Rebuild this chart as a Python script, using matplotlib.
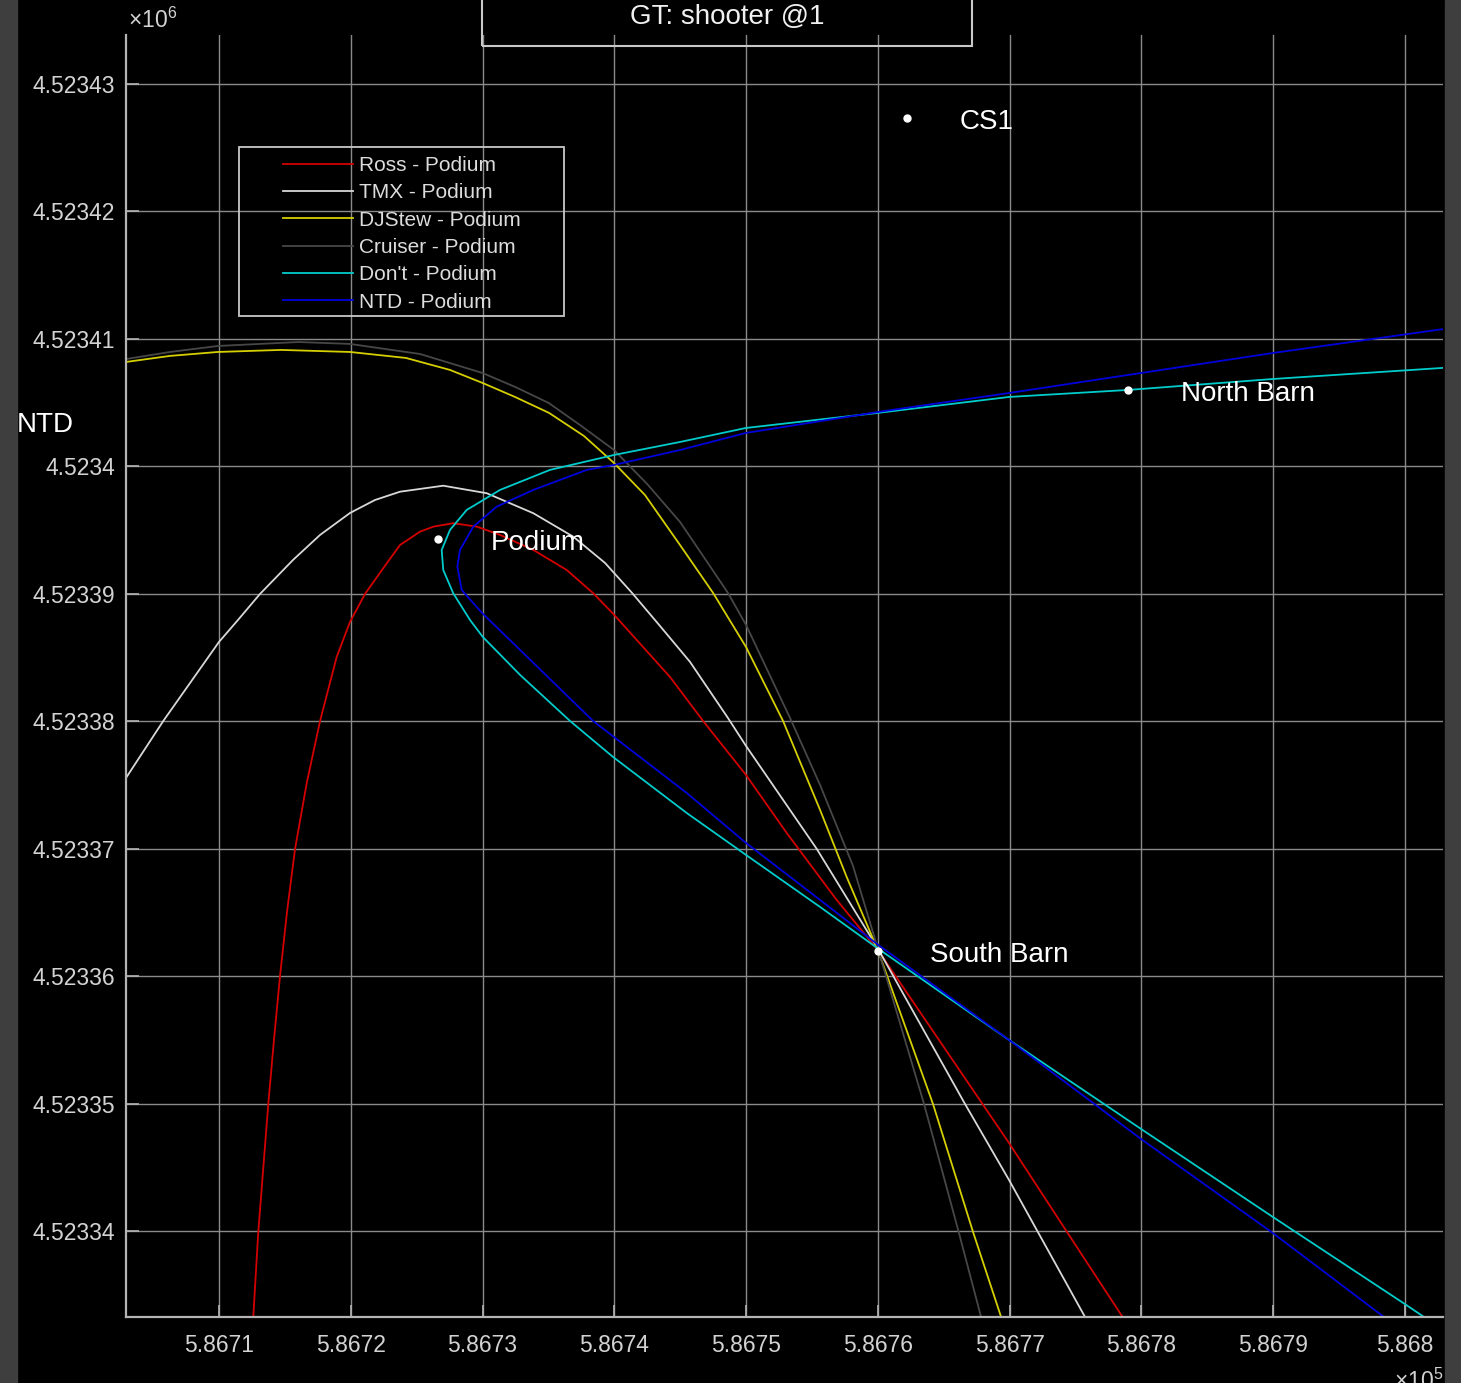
import matplotlib
matplotlib.use('Agg')
import matplotlib.pyplot as plt
import numpy as np
from matplotlib.patches import Rectangle
from matplotlib.ticker import FuncFormatter

plt.rcParams['font.family'] = ['Liberation Sans', 'DejaVu Sans']
plt.rcParams['mathtext.fontset'] = 'custom'
plt.rcParams['mathtext.rm'] = 'Liberation Sans'

# UTM base (m)
E0 = 586700.0
N0 = 4523300.0

# sensor / landmark positions (offsets from base, m)
site_names = ['Podium', 'CS1', 'North Barn', 'South Barn']
site_e = [26.6, 62.2, 79.0, 60.0]
site_n = [94.3, 127.3, 106.0, 62.0]

# hyperbola traces (offsets from base, m)
ross_e = [12.60, 12.98, 13.74, 14.17, 14.63, 15.16, 15.77, 16.66, 17.67, 18.93, 19.94, 21.08, 22.75,
          23.74, 25.26, 26.27, 27.78, 29.56, 31.33, 33.86, 36.39, 38.41, 39.93, 44.23, 46.74, 50.00,
          53.09, 56.88, 60.00, 69.96, 74.36, 78.58]
ross_n = [33.29, 39.96, 50.00, 55.02, 60.04, 65.06, 70.00, 75.18, 80.04, 85.06, 87.80, 90.00, 92.43,
          93.84, 94.89, 95.28, 95.55, 95.28, 94.63, 93.45, 91.88, 90.05, 88.43, 83.49, 80.04, 75.80,
          71.25, 66.00, 62.08, 46.94, 39.96, 33.29]

tmx_e = [2.94, 5.77, 10.00, 11.44, 13.11, 15.62, 17.67, 19.94, 21.84, 23.74, 27.02, 30.32, 33.86,
         36.89, 39.30, 41.35, 43.47, 45.75, 48.63, 50.00, 55.37, 60.00, 66.62, 69.96, 75.73]
tmx_n = [75.57, 80.04, 86.24, 87.96, 90.00, 92.67, 94.63, 96.35, 97.37, 98.02, 98.49, 97.90, 96.33,
         94.49, 92.43, 90.08, 87.49, 84.67, 80.27, 78.08, 70.00, 62.20, 50.00, 44.04, 33.29]

djstew_e = [2.97, 6.28, 9.92, 14.71, 19.94, 24.19, 27.53, 30.00, 32.47, 35.05, 37.70, 39.98, 42.33,
            44.99, 47.50, 50.00, 52.81, 55.62, 57.64, 60.00, 64.19, 67.23, 69.36]
djstew_n = [108.20, 108.67, 108.98, 109.14, 108.98, 108.51, 107.57, 106.55, 105.45, 104.20, 102.39,
            100.27, 97.76, 93.84, 90.08, 85.84, 80.04, 73.06, 67.80, 62.08, 50.00, 39.96, 33.29]

cruiser_e = [2.97, 6.28, 9.92, 16.04, 19.94, 25.26, 30.00, 32.47, 35.02, 37.40, 39.98, 42.49, 44.99,
             46.74, 48.63, 50.00, 53.34, 55.62, 58.12, 60.00, 63.51, 66.14, 67.84]
cruiser_n = [108.43, 108.98, 109.45, 109.76, 109.61, 108.82, 107.33, 106.24, 104.98, 103.25, 101.29,
             98.63, 95.65, 92.98, 90.08, 87.57, 80.27, 75.02, 68.67, 62.20, 50.00, 39.96, 33.29]

dont_e = [102.90, 90.00, 78.99, 69.96, 60.00, 50.00, 44.99, 39.98, 35.12, 31.33, 28.80, 27.53, 26.90,
          27.02, 27.78, 29.05, 30.02, 32.85, 36.64, 39.90, 45.50, 50.00, 55.62, 60.00, 69.96, 79.98,
          89.98, 100.00, 101.46]
dont_n = [107.73, 106.86, 106.00, 105.45, 104.20, 103.02, 101.92, 100.90, 99.73, 98.16, 96.59, 95.02,
          93.45, 91.88, 90.05, 87.96, 86.63, 83.65, 80.04, 77.22, 72.82, 69.53, 65.45, 62.20, 55.02,
          48.04, 41.14, 34.31, 33.29]

ntd_e = [102.95, 90.00, 79.98, 69.96, 60.00, 50.00, 44.99, 39.98, 37.91, 33.86, 31.08, 29.30, 28.29,
         28.09, 28.42, 29.96, 32.85, 38.39, 45.50, 50.00, 55.62, 60.00, 69.96, 79.98, 89.98, 98.42]
ntd_n = [110.78, 108.90, 107.33, 105.76, 104.27, 102.63, 101.29, 100.12, 99.73, 98.16, 96.85, 95.28,
         93.45, 92.14, 90.31, 88.51, 85.61, 80.04, 74.39, 70.47, 66.00, 62.50, 55.02, 47.25, 39.88,
         33.29]

series = [
    ('Ross - Podium', ross_e, ross_n, '#d40000'),
    ('TMX - Podium', tmx_e, tmx_n, '#d8d8d8'),
    ('DJStew - Podium', djstew_e, djstew_n, '#d6cf00'),
    ('Cruiser - Podium', cruiser_e, cruiser_n, '#474747'),
    ("Don't - Podium", dont_e, dont_n, '#00cccc'),
    ('NTD - Podium', ntd_e, ntd_n, '#0000dd'),
]

W, H = 1461, 1383
fig = plt.figure(figsize=(W / 100, H / 100), dpi=100, facecolor='black')

# textured side strips of the screenshot
fig.add_artist(Rectangle((0, 0), 17 / W, 1, transform=fig.transFigure, color='#3e3e3e', zorder=0))
fig.add_artist(Rectangle((1445 / W, 0), 16 / W, 1, transform=fig.transFigure, color='#3e3e3e', zorder=0))

ax = fig.add_axes([126 / W, 1 - 1317 / H, (1443 - 126) / W, (1317 - 35) / H])
ax.set_facecolor('black')

for label, e, n, c in series:
    ax.plot(E0 + np.array(e), N0 + np.array(n), color=c, lw=1.3, label=label,
            solid_joinstyle='round')

ax.plot(E0 + np.array(site_e), N0 + np.array(site_n), 'o', color='white', ms=5, zorder=5)
for name, e, n in zip(site_names, site_e, site_n):
    ax.text(E0 + e + 4.0, N0 + n - 0.3, name, color='white', fontsize=20, va='center', ha='left')

ax.set_xlim(E0 + 2.94, E0 + 102.9)
ax.set_ylim(N0 + 33.29, N0 + 133.84)
ax.set_xticks(np.arange(E0 + 10, E0 + 101, 10))
ax.set_yticks(np.arange(N0 + 40, N0 + 131, 10))
ax.xaxis.set_major_formatter(FuncFormatter(lambda v, p: f'{v / 1e5:g}'))
ax.yaxis.set_major_formatter(FuncFormatter(lambda v, p: f'{v / 1e6:g}'))
ax.tick_params(direction='in', length=9, width=1.2, color='#b4b4b4', labelcolor='#d2d2d2',
               labelsize=16.5)
ax.tick_params(axis='y', pad=8)
ax.tick_params(axis='x', pad=12)
ax.grid(True, color='#8a8a8a', lw=1.0)
for s in ['top', 'right']:
    ax.spines[s].set_visible(False)
for s in ['left', 'bottom']:
    ax.spines[s].set_color('#b4b4b4')
    ax.spines[s].set_linewidth(1.6)

# legend with a separate frame
leg = ax.legend(loc='upper left', bbox_to_anchor=((283 - 126) / 1317, (1317 - 156) / 1282),
                frameon=False, fontsize=15, handlelength=3.35, handletextpad=0.3,
                labelspacing=0.40, borderpad=0, borderaxespad=0)
for t in leg.get_texts():
    t.set_color('#dcdcdc')
ax.add_patch(Rectangle(((239 - 126) / 1317, (1317 - 316) / 1282), (564 - 239) / 1317, (316 - 147) / 1282,
                       transform=ax.transAxes, fill=False, edgecolor='#c8c8c8', lw=1.3, zorder=6))

# exponent markers
fig.text(128 / W, 1 - 20 / H, r'$\times10^{6}$', color='#d2d2d2', fontsize=16.5, ha='left', va='center')
fig.text(1443 / W, 1 - 1381 / H, r'$\times10^{5}$', color='#d2d2d2', fontsize=16.5, ha='right', va='center')

# ylabel-style text and title box
fig.text(17 / W, 1 - 425 / H, 'NTD', color='white', fontsize=20, ha='left', va='center')
fig.add_artist(Rectangle((482 / W, 1 - 46 / H), (972 - 482) / W, 60 / H, transform=fig.transFigure,
                         fill=False, edgecolor='#c8c8c8', lw=1.5))
fig.text(727 / W, 1 - 17 / H, 'GT: shooter @1', color='#f0f0f0', fontsize=20, ha='center', va='center')

fig.savefig('out.png', dpi=100, facecolor='black')
